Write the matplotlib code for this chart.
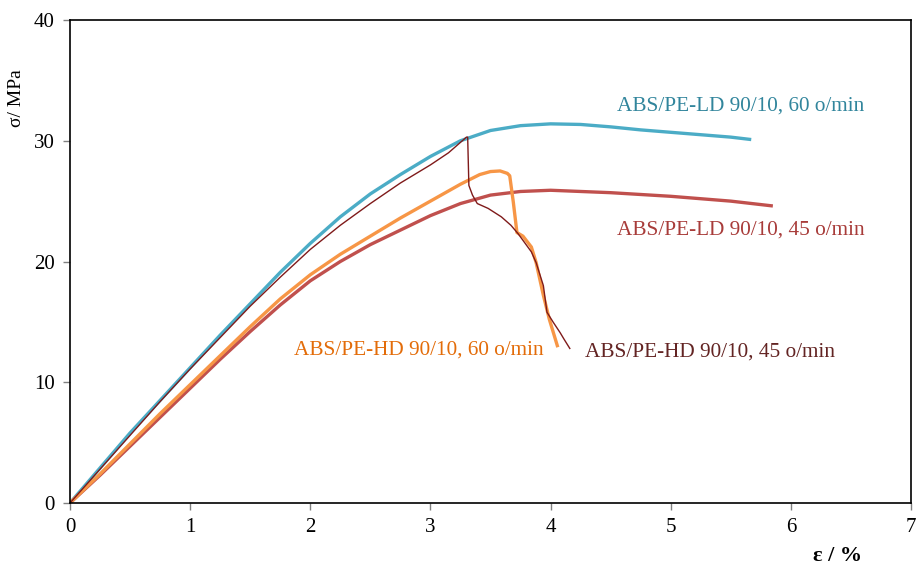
import matplotlib
matplotlib.use("Agg")
import matplotlib.pyplot as plt

plt.rcParams['font.family'] = ['Liberation Serif', 'DejaVu Serif']

# ABS/PE-LD 90/10, 60 o/min
ld60_eps = [0, 0.25, 0.5, 0.75, 1.0, 1.25, 1.5, 1.75, 2.0, 2.25, 2.5, 2.75, 3.0, 3.25,
            3.5, 3.75, 4.0, 4.25, 4.5, 4.75, 5.0, 5.25, 5.5, 5.67]
ld60_sig = [0, 2.9, 5.8, 8.5, 11.2, 13.9, 16.5, 19.1, 21.5, 23.7, 25.6, 27.2, 28.7, 30.0,
            30.85, 31.25, 31.4, 31.35, 31.15, 30.9, 30.7, 30.5, 30.3, 30.1]

# ABS/PE-LD 90/10, 45 o/min
ld45_eps = [0, 0.25, 0.5, 0.75, 1.0, 1.25, 1.5, 1.75, 2.0, 2.25, 2.5, 2.75, 3.0, 3.25,
            3.5, 3.75, 4.0, 4.5, 5.0, 5.5, 5.85]
ld45_sig = [0, 2.3, 4.7, 7.1, 9.5, 11.9, 14.2, 16.4, 18.4, 20.0, 21.4, 22.6, 23.8, 24.8,
            25.5, 25.8, 25.9, 25.7, 25.4, 25.0, 24.6]

# ABS/PE-HD 90/10, 60 o/min
hd60_eps = [0, 0.25, 0.5, 0.75, 1.0, 1.25, 1.5, 1.75, 2.0, 2.25, 2.5, 2.75, 3.0, 3.25,
            3.41, 3.5, 3.58, 3.64, 3.66, 3.69, 3.72, 3.77, 3.84, 3.88, 3.94, 3.99, 4.06]
hd60_sig = [0, 2.4, 4.9, 7.4, 9.8, 12.2, 14.6, 16.9, 18.9, 20.6, 22.1, 23.6, 25.0, 26.4,
            27.2, 27.45, 27.5, 27.3, 27.1, 24.9, 22.4, 22.1, 21.2, 19.9, 17.2, 15.2, 12.9]

# ABS/PE-HD 90/10, 45 o/min
hd45_eps = [0, 0.25, 0.5, 0.75, 1.0, 1.25, 1.5, 1.75, 2.0, 2.25, 2.5, 2.75, 3.0, 3.15, 3.3,
            3.31, 3.32, 3.35, 3.39, 3.48, 3.59, 3.67, 3.73, 3.84, 3.88, 3.94, 3.97, 4.02,
            4.08, 4.11, 4.16]
hd45_sig = [0, 2.8, 5.6, 8.4, 11.1, 13.7, 16.3, 18.7, 21.0, 23.0, 24.8, 26.5, 28.0, 29.0, 30.3,
            30.3, 26.3, 25.5, 24.8, 24.4, 23.7, 23.0, 22.3, 20.8, 19.9, 18.0, 15.8, 15.0,
            14.1, 13.6, 12.8]

labels = ["ABS/PE-LD 90/10, 60 o/min", "ABS/PE-LD 90/10, 45 o/min",
          "ABS/PE-HD 90/10, 60 o/min", "ABS/PE-HD 90/10, 45 o/min"]

fig = plt.figure(figsize=(9.17, 5.65), dpi=100)
ax = fig.add_axes([0.0763, 0.1097, 0.9172, 0.8549])

ax.plot(ld60_eps, ld60_sig, color='#4BACC6', lw=2.4, solid_capstyle='butt')
ax.plot(ld45_eps, ld45_sig, color='#C0504D', lw=2.4, solid_capstyle='butt')
ax.plot(hd60_eps, hd60_sig, color='#F79646', lw=2.4, solid_capstyle='butt')
ax.plot(hd45_eps, hd45_sig, color='#7F1A1A', lw=1.0)

fs = 15.3
ax.text(4.55, 32.9, labels[0], color='#31859C', fontsize=fs, va='center', ha='left')
ax.text(4.55, 22.6, labels[1], color='#A83C3A', fontsize=fs, va='center', ha='left')
ax.text(1.865, 12.7, labels[2], color='#E36C09', fontsize=fs, va='center', ha='left')
ax.text(4.29, 12.5, labels[3], color='#632423', fontsize=fs, va='center', ha='left')

ax.set_xlim(0, 7)
ax.set_ylim(0, 40)
ax.set_xticks(range(0, 8))
ax.set_yticks([0, 10, 20, 30, 40])
ax.tick_params(direction='out', length=5, width=1, color='#808080', labelsize=15, pad=6)
for s in ax.spines.values():
    s.set_color('black')
    s.set_linewidth(1.2)

ax.set_ylabel('σ/ MPa', fontsize=14)
ax.yaxis.set_label_coords(-0.054, 0.838)
ax.set_xlabel('ε / %', fontsize=16, fontweight='bold')
ax.xaxis.set_label_coords(0.913, -0.088)

fig.savefig('out.png', dpi=100)
